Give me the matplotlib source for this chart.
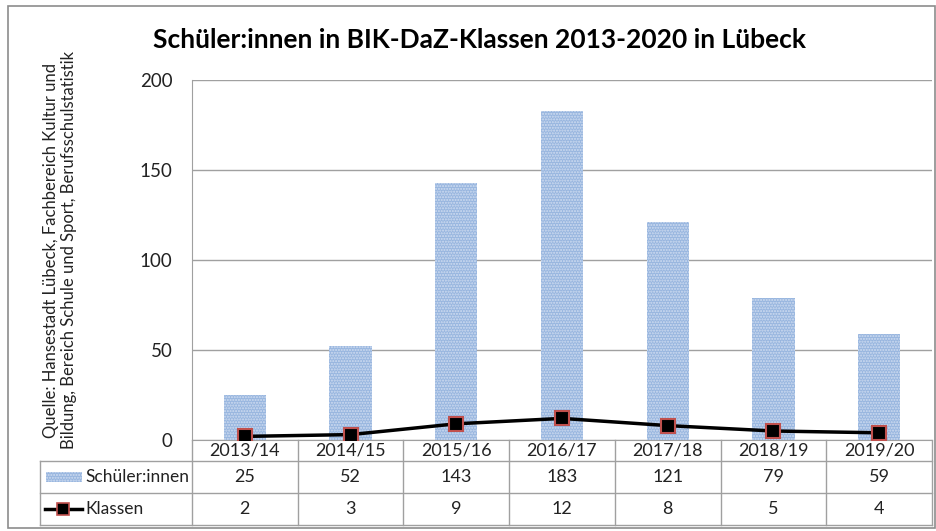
import matplotlib
matplotlib.use("Agg")
import matplotlib.pyplot as plt
from matplotlib.patches import Rectangle
from matplotlib.lines import Line2D
from matplotlib.transforms import blended_transform_factory

plt.rcParams["font.family"] = ["Lato", "DejaVu Sans"]

YEARS = ["2013/14", "2014/15", "2015/16", "2016/17", "2017/18", "2018/19", "2019/20"]
SCHUELER = [25, 52, 143, 183, 121, 79, 59]
KLASSEN = [2, 3, 9, 12, 8, 5, 4]

TITLE = "Schüler:innen in BIK-DaZ-Klassen 2013-2020 in Lübeck"
SOURCE = "Quelle: Hansestadt Lübeck, Fachbereich Kultur und\nBildung, Bereich Schule und Sport, Berufsschulstatistik"

BAR_FACE = "#98b6df"
BAR_HATCH = "#d0ddf1"
GRID = "#a0a0a0"
TXT = "#222222"
W, H = 937, 531


def px_rect(x0, y0, x1, y1):
    return [x0 / W, 1 - y1 / H, (x1 - x0) / W, (y1 - y0) / H]


def fy(p):
    return 1 - p / H


fig = plt.figure(figsize=(W / 100, H / 100), dpi=100)
fig.add_artist(Rectangle((8 / W, fy(528)), 927 / W, 522 / H, transform=fig.transFigure,
                         fill=False, edgecolor="#8c8c8c", linewidth=1.2))

ax = fig.add_axes(px_rect(192, 80, 932, 440))
x = list(range(len(YEARS)))
ax.bar(x, SCHUELER, width=0.4, color=BAR_FACE, edgecolor=BAR_HATCH, linewidth=0, hatch="......", zorder=2)
ax.plot(x, KLASSEN, color="black", linewidth=2.5, marker="s", markersize=10,
        markerfacecolor="black", markeredgecolor="#c0504d", markeredgewidth=1.5, zorder=3)

ax.set_xlim(-0.5, len(YEARS) - 0.5)
ax.set_ylim(0, 200)
ax.set_yticks([0, 50, 100, 150, 200])
ax.set_xticks([])
ax.tick_params(axis="y", length=0, labelsize=13.5, pad=14, colors=TXT)
ax.grid(True, axis="y", color=GRID, linewidth=1.0, zorder=0)
ax.set_axisbelow(True)
for side in ["top", "right"]:
    ax.spines[side].set_visible(False)
ax.spines["left"].set_color(GRID)
ax.spines["bottom"].set_color(GRID)
fig.text(60 / W, fy(250), SOURCE, fontsize=12, rotation=90, ha="center", va="center",
         multialignment="center", linespacing=1.15, color=TXT)
fig.text(480 / W, fy(40), TITLE, fontsize=19, fontweight="bold", ha="center", va="center")

# data table below the plot
trans = blended_transform_factory(ax.transData, ax.transAxes)


def ay(p):
    return (440 - p) / 360


n = len(YEARS)
for k in range(n + 1):
    ax.add_line(Line2D([k - 0.5, k - 0.5], [ay(440), ay(525)], transform=trans,
                       color=GRID, linewidth=1.0, clip_on=False))
for p in [461, 493, 525]:
    fig.add_artist(Line2D([40 / W, 932 / W], [fy(p), fy(p)], transform=fig.transFigure,
                          color=GRID, linewidth=1.0))
fig.add_artist(Line2D([40 / W, 40 / W], [fy(461), fy(525)], transform=fig.transFigure,
                      color=GRID, linewidth=1.0))

for i, (yr, s, k) in enumerate(zip(YEARS, SCHUELER, KLASSEN)):
    ax.text(i, ay(451), yr, transform=trans, ha="center", va="center", fontsize=13, color=TXT)
    ax.text(i, ay(477), str(s), transform=trans, ha="center", va="center", fontsize=13, color=TXT)
    ax.text(i, ay(509), str(k), transform=trans, ha="center", va="center", fontsize=13, color=TXT)

# legend keys in table header column
fig.add_artist(Rectangle((46 / W, fy(482)), 36 / W, 10 / H, transform=fig.transFigure,
                         facecolor=BAR_FACE, edgecolor=BAR_HATCH, linewidth=0, hatch="......"))
fig.add_artist(Line2D([45 / W, 82 / W], [fy(509), fy(509)], transform=fig.transFigure,
                      color="black", linewidth=2.5))
fig.add_artist(Line2D([63.5 / W], [fy(509)], transform=fig.transFigure, marker="s", markersize=8,
                      markerfacecolor="black", markeredgecolor="#c0504d", markeredgewidth=1.2))
fig.text(85 / W, fy(477), "Schüler:innen", fontsize=12.5, va="center", color=TXT)
fig.text(85 / W, fy(509), "Klassen", fontsize=12.5, va="center", color=TXT)

fig.savefig("out.png", dpi=100)
